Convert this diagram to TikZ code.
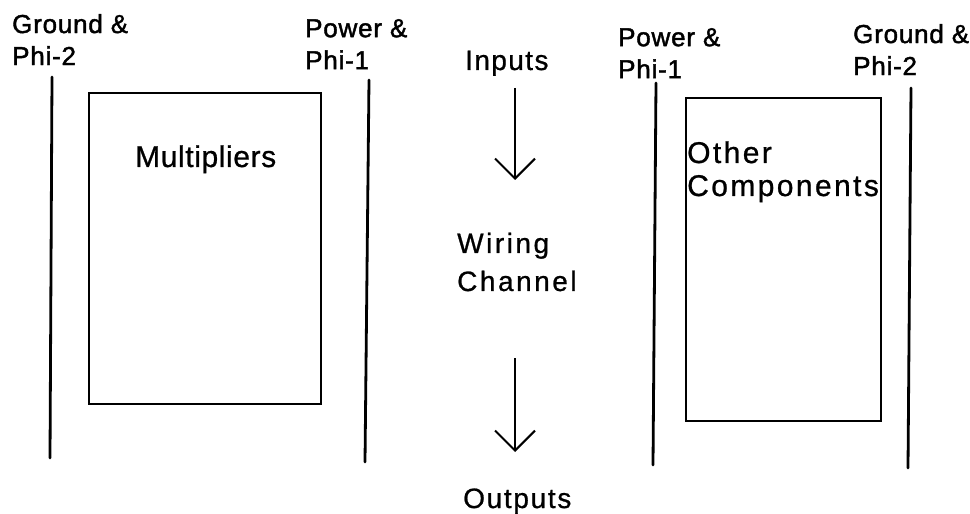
\documentclass[tikz,border=0pt]{standalone}
\usepackage{fontspec}
\setmainfont{Liberation Sans}
\newfontfamily\labfont[LetterSpace=3,FakeBold=1.6]{Liberation Sans}
\newfontfamily\fA[LetterSpace=2,FakeBold=0.8]{Liberation Sans}
\newfontfamily\fB[LetterSpace=5,FakeBold=0.8]{Liberation Sans}
\newfontfamily\fC[LetterSpace=9,FakeBold=0.8]{Liberation Sans}
\newfontfamily\fD[LetterSpace=6,FakeBold=0.8]{Liberation Sans}
\newfontfamily\fE[LetterSpace=8,FakeBold=0.8]{Liberation Sans}
\usetikzlibrary{arrows.meta}
\tikzset{
  rail/.style={line width=2.8bp, line cap=round},
  blockbox/.style={draw, line width=2.8bp, rectangle, inner sep=0pt},
  lab/.style={inner sep=0pt, anchor=north west, align=left,
    font=\labfont\fontsize{26bp}{32bp}\selectfont},
  big/.style={inner sep=0pt, anchor=base west, align=left},
  flow/.style={line width=2bp, -{Straight Barb[length=20bp, width=40bp, line width=2bp]}}
}
\begin{document}
\begin{tikzpicture}[x=1bp, y=-1bp]
\useasboundingbox (0,0) rectangle (970,514);
% labels
\node[lab] (gl) at (12,14) {Ground \&\\Phi-2};
\node[lab] (pl) at (305,19) {Power \&\\Phi-1};
\node[lab] (pr) at (618,28) {Power \&\\Phi-1};
\node[lab] (gr) at (853,24) {Ground \&\\Phi-2};
% rails
\coordinate (r1t) at (52,77);  \coordinate (r1b) at (50,458);
\coordinate (r2t) at (369,80); \coordinate (r2b) at (365,462);
\coordinate (r3t) at (656,83); \coordinate (r3b) at (653,465);
\coordinate (r4t) at (911,88); \coordinate (r4b) at (908,468);
\draw[rail] (r1t) -- (r1b);
\draw[rail] (r2t) -- (r2b);
\draw[rail] (r3t) -- (r3b);
\draw[rail] (r4t) -- (r4b);
% boxes
\node[blockbox, minimum width=232bp, minimum height=311bp] (mbox) at (205,248.5) {};
\node[blockbox, minimum width=195bp, minimum height=323bp] (obox) at (783.5,259.5) {};
\node[big, font=\fA\fontsize{30bp}{36bp}\selectfont] (mult) at (135,167) {Multipliers};
\node[big, font=\fE\fontsize{30bp}{33bp}\selectfont] (other) at (687,163) {Other};
\node[big, font=\fE\fontsize{30bp}{33bp}\selectfont] (comp) at (687,196) {Components};
% centre column
\node[big, font=\fB\fontsize{28bp}{34bp}\selectfont] (inputs) at (465,70) {Inputs};
\node[big, font=\fC\fontsize{28bp}{34bp}\selectfont] (wiring) at (457,253) {Wiring};
\node[big, font=\fC\fontsize{28bp}{34bp}\selectfont] (channel) at (457,291) {Channel};
\node[big, font=\fD\fontsize{28bp}{34bp}\selectfont] (outputs) at (463,508) {Outputs};
\coordinate (a1s) at (515,88);  \coordinate (a1e) at (515,180);
\coordinate (a2s) at (515,358); \coordinate (a2e) at (515,452);
\draw[flow] (a1s) -- (a1e);
\draw[flow] (a2s) -- (a2e);
\end{tikzpicture}
\end{document}
